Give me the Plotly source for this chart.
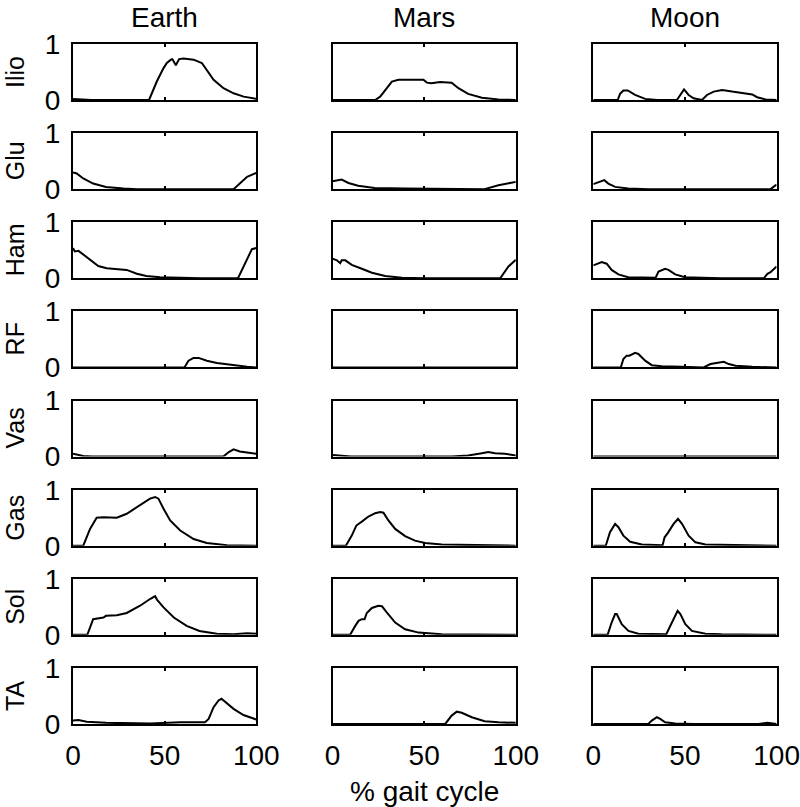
import plotly.graph_objects as go

# ---------------- data ----------------
planets = ["Earth", "Mars", "Moon"]
muscles = ["Ilio", "Glu", "Ham", "RF", "Vas", "Gas", "Sol", "TA"]
x_tick_vals = [0, 50, 100]
x_tick_text = ["0", "50", "100"]
y_tick_vals = [0, 1]
y_tick_text = ["0", "1"]
x_title = "% gait cycle"

# Earth
earth_ilio_x = [0, 5, 10, 41.5, 45.7, 49.4, 51.2, 53.4, 54.2, 56.1, 57.9, 60.3, 65.8, 70.3, 72.1, 76.7, 82.1, 87.6, 93.1, 100]
earth_ilio_y = [0.02, 0.01, 0, 0, 0.33, 0.57, 0.66, 0.72, 0.73, 0.62, 0.73, 0.74, 0.72, 0.66, 0.57, 0.36, 0.21, 0.12, 0.06, 0.02]
earth_glu_x = [0, 2, 5.6, 11, 18, 27.5, 35, 87.6, 91, 95, 100]
earth_glu_y = [0.30, 0.28, 0.19, 0.10, 0.04, 0.01, 0, 0, 0.10, 0.22, 0.29]
earth_ham_x = [0, 1, 3, 4.7, 9.3, 13.8, 18.4, 27.5, 29.3, 34.8, 40, 47.5, 62, 70, 90, 93, 95.8, 97.6, 100]
earth_ham_y = [0.54, 0.48, 0.49, 0.45, 0.33, 0.22, 0.18, 0.16, 0.15, 0.08, 0.04, 0.02, 0.01, 0, 0, 0.21, 0.42, 0.52, 0.54]
earth_rf_x = [0, 60.8, 63, 65.8, 68.5, 73, 78.5, 87.6, 95, 100]
earth_rf_y = [0, 0, 0.12, 0.17, 0.17, 0.12, 0.08, 0.04, 0.01, 0]
earth_vas_x = [0, 5.6, 10, 82, 85, 87.6, 91, 100]
earth_vas_y = [0.05, 0.01, 0, 0, 0.08, 0.13, 0.09, 0.05]
earth_gas_x = [0, 5.6, 9.3, 12.9, 16.6, 23.9, 29.3, 36.6, 42, 44.8, 46.6, 49.4, 53, 58.5, 65.8, 73, 84, 100]
earth_gas_y = [0, 0, 0.30, 0.50, 0.51, 0.50, 0.57, 0.72, 0.84, 0.87, 0.84, 0.66, 0.45, 0.27, 0.12, 0.05, 0.01, 0]
earth_sol_x = [0, 7.8, 11, 12.9, 16.6, 18, 23.9, 29.3, 36.6, 42, 44.8, 45.8, 49.4, 55, 62, 69, 78.5, 87.6, 95, 100]
earth_sol_y = [0, 0, 0.28, 0.29, 0.31, 0.34, 0.35, 0.39, 0.52, 0.64, 0.69, 0.63, 0.49, 0.31, 0.16, 0.07, 0.02, 0.01, 0.03, 0.02]
earth_ta_x = [0, 3, 7.5, 18, 42, 58.5, 72, 74, 76.7, 79.4, 81, 84, 87.6, 93, 100]
earth_ta_y = [0.06, 0.07, 0.04, 0.02, 0.01, 0.03, 0.03, 0.09, 0.30, 0.42, 0.45, 0.36, 0.27, 0.16, 0.08]

# Mars
mars_ilio_x = [0, 23.3, 26, 28.7, 32.4, 36, 41.5, 47, 49.6, 51.5, 54, 58.7, 61.5, 65, 68.7, 74, 81.5, 90.5, 100]
mars_ilio_y = [0, 0, 0.06, 0.18, 0.33, 0.36, 0.36, 0.37, 0.36, 0.31, 0.30, 0.32, 0.32, 0.31, 0.21, 0.11, 0.04, 0.01, 0]
mars_glu_x = [0, 5, 8.7, 14, 23, 40, 83, 90.5, 100]
mars_glu_y = [0.14, 0.17, 0.11, 0.06, 0.02, 0.01, 0, 0.07, 0.13]
mars_ham_x = [0, 2.4, 4.2, 5, 7, 10.5, 16, 21.5, 28.7, 37.8, 50, 91.5, 96, 100]
mars_ham_y = [0.35, 0.32, 0.27, 0.32, 0.32, 0.24, 0.17, 0.10, 0.04, 0.01, 0, 0, 0.21, 0.33]
mars_rf_x = [0, 100]
mars_rf_y = [0, 0]
mars_vas_x = [0, 5, 10, 65, 74, 81.5, 85, 88.7, 94, 100]
mars_vas_y = [0.03, 0.01, 0, 0, 0.02, 0.06, 0.08, 0.06, 0.05, 0.02]
mars_gas_x = [0, 7.3, 10.5, 13, 16, 19.6, 23.3, 26, 27.8, 30.5, 34.2, 39.6, 45, 50.5, 59.6, 72, 100]
mars_gas_y = [0, 0, 0.18, 0.36, 0.43, 0.52, 0.58, 0.60, 0.59, 0.45, 0.30, 0.17, 0.09, 0.05, 0.02, 0.01, 0]
mars_sol_x = [0, 9.6, 12.4, 14.2, 16, 17.5, 18.7, 21.5, 25, 27, 29.6, 34.2, 39.6, 47, 59.6, 100]
mars_sol_y = [0, 0, 0.16, 0.25, 0.28, 0.28, 0.39, 0.48, 0.52, 0.51, 0.40, 0.22, 0.10, 0.04, 0.01, 0]
mars_ta_x = [0, 61.5, 65, 67.8, 70.5, 76, 83, 90.5, 100]
mars_ta_y = [0, 0, 0.15, 0.22, 0.20, 0.12, 0.05, 0.03, 0.02]

# Moon
moon_ilio_x = [0, 13.3, 14.6, 16.4, 18.8, 22.8, 28.3, 35, 45.6, 47.4, 49.5, 52, 54.7, 59.3, 62, 65.7, 70.3, 75.7, 81, 86.7, 89.4, 94, 100]
moon_ilio_y = [0, 0, 0.11, 0.17, 0.17, 0.09, 0.02, 0, 0, 0.09, 0.19, 0.09, 0.03, 0, 0.09, 0.15, 0.18, 0.15, 0.12, 0.10, 0.05, 0.01, 0]
moon_glu_x = [0, 2.7, 6, 8.2, 11.9, 19, 30, 96.7, 100]
moon_glu_y = [0.09, 0.12, 0.16, 0.10, 0.04, 0.01, 0, 0, 0.08]
moon_ham_x = [0, 2.7, 4.6, 7.3, 10, 13.7, 19, 34, 35.6, 39.2, 41, 44.7, 50, 59, 70, 93, 95, 96.7, 100]
moon_ham_y = [0.23, 0.27, 0.29, 0.26, 0.15, 0.07, 0.02, 0.01, 0.12, 0.17, 0.15, 0.07, 0.02, 0.01, 0, 0, 0.08, 0.11, 0.21]
moon_rf_x = [0, 15, 16.4, 18.2, 19.7, 22.8, 24.6, 28.3, 31.9, 37.4, 48, 60.2, 63.9, 68.4, 71.2, 73.9, 77.6, 86.7, 100]
moon_rf_y = [0, 0, 0.15, 0.21, 0.21, 0.26, 0.24, 0.12, 0.04, 0.02, 0.01, 0, 0.06, 0.09, 0.10, 0.06, 0.03, 0.01, 0]
moon_vas_x = [0, 80, 85, 90, 100]
moon_vas_y = [0, 0, 0.01, 0, 0]
moon_gas_x = [0, 6.8, 9.1, 11, 11.9, 13.7, 16.4, 20.1, 26.5, 37.8, 38.9, 40.7, 43.8, 46.2, 48.4, 52, 55.7, 61.2, 75, 90, 100]
moon_gas_y = [0, 0, 0.24, 0.36, 0.39, 0.33, 0.18, 0.07, 0.02, 0.01, 0.15, 0.23, 0.39, 0.48, 0.39, 0.18, 0.06, 0.02, 0.01, 0.01, 0]
moon_sol_x = [0, 7.8, 10, 11.9, 12.8, 15.5, 19.2, 24.6, 39.8, 42, 43.8, 46, 47.5, 50.2, 53.8, 61.2, 70, 100]
moon_sol_y = [0, 0, 0.22, 0.37, 0.37, 0.19, 0.07, 0.02, 0.01, 0.16, 0.31, 0.43, 0.37, 0.19, 0.07, 0.02, 0.01, 0]
moon_ta_x = [0, 30, 31.9, 34.7, 36.5, 39.2, 44.7, 55, 90, 95, 100]
moon_ta_y = [0, 0, 0.06, 0.12, 0.09, 0.03, 0.01, 0, 0, 0.02, 0]

curves = {
    "Earth": [(earth_ilio_x, earth_ilio_y), (earth_glu_x, earth_glu_y), (earth_ham_x, earth_ham_y),
              (earth_rf_x, earth_rf_y), (earth_vas_x, earth_vas_y), (earth_gas_x, earth_gas_y),
              (earth_sol_x, earth_sol_y), (earth_ta_x, earth_ta_y)],
    "Mars": [(mars_ilio_x, mars_ilio_y), (mars_glu_x, mars_glu_y), (mars_ham_x, mars_ham_y),
             (mars_rf_x, mars_rf_y), (mars_vas_x, mars_vas_y), (mars_gas_x, mars_gas_y),
             (mars_sol_x, mars_sol_y), (mars_ta_x, mars_ta_y)],
    "Moon": [(moon_ilio_x, moon_ilio_y), (moon_glu_x, moon_glu_y), (moon_ham_x, moon_ham_y),
             (moon_rf_x, moon_rf_y), (moon_vas_x, moon_vas_y), (moon_gas_x, moon_gas_y),
             (moon_sol_x, moon_sol_y), (moon_ta_x, moon_ta_y)],
}

# ---------------- layout geometry (pixels) ----------------
W, H = 800, 807
col_left = [73, 332.5, 593.3]
col_width = 183.3
row_top0 = 44
row_pitch = 89.14
row_height = 56
FONT = "Liberation Sans, Arial, sans-serif"
FS = 28
FS_ROW = 25

fig = go.Figure()
layout = dict(
    width=W, height=H, margin=dict(l=0, r=0, t=0, b=0, autoexpand=False),
    paper_bgcolor="white", plot_bgcolor="white", showlegend=False,
    font=dict(family=FONT, size=FS, color="black"),
)
annotations = []

for r, muscle in enumerate(muscles):
    top = row_top0 + r * row_pitch
    ydom = [1 - (top + row_height) / H, 1 - top / H]
    for c, planet in enumerate(planets):
        k = r * 3 + c + 1
        xs, ys = curves[planet][r]
        xname = "x" if k == 1 else f"x{k}"
        yname = "y" if k == 1 else f"y{k}"
        fig.add_trace(go.Scatter(x=xs, y=ys, mode="lines", xaxis=xname, yaxis=yname,
                                 line=dict(color="black", width=2), hoverinfo="skip"))
        xdom = [col_left[c] / W, (col_left[c] + col_width) / W]
        layout["xaxis" if k == 1 else f"xaxis{k}"] = dict(
            domain=xdom, anchor=yname, range=[0, 100], showgrid=False, zeroline=False,
            showline=True, linecolor="black", linewidth=2, mirror="ticks",
            ticks="inside", ticklen=3, tickwidth=1.5, tickcolor="black",
            tickvals=x_tick_vals, ticktext=x_tick_text,
            showticklabels=(r == len(muscles) - 1), ticklabelstandoff=5,
            tickfont=dict(family=FONT, size=FS, color="black"), automargin=False,
        )
        layout["yaxis" if k == 1 else f"yaxis{k}"] = dict(
            domain=ydom, anchor=xname, range=[0, 1], showgrid=False, zeroline=False,
            showline=True, linecolor="black", linewidth=2, mirror="ticks",
            ticks="inside", ticklen=3, tickwidth=1.5, tickcolor="black",
            tickvals=y_tick_vals, ticktext=y_tick_text,
            showticklabels=(c == 0), ticklabelstandoff=5,
            tickfont=dict(family=FONT, size=FS, color="black"), automargin=False,
        )
    annotations.append(dict(
        text=muscle, textangle=-90, x=0, y=1 - (top + row_height / 2) / H,
        xref="paper", yref="paper", xanchor="left", yanchor="middle", xshift=-1,
        showarrow=False, font=dict(family=FONT, size=FS_ROW, color="black")))

for c, planet in enumerate(planets):
    annotations.append(dict(
        text=planet, x=(col_left[c] + col_width / 2) / W, y=1, xref="paper", yref="paper",
        xanchor="center", yanchor="top", yshift=0, showarrow=False,
        font=dict(family=FONT, size=FS, color="black")))

annotations.append(dict(
    text=x_title, x=(col_left[1] + col_width / 2) / W, y=0, xref="paper", yref="paper",
    xanchor="center", yanchor="bottom", yshift=-2, showarrow=False,
    font=dict(family=FONT, size=FS, color="black")))

layout["annotations"] = annotations
fig.update_layout(**layout)
fig.write_html(
    "out.html",
    config={"displayModeBar": False},
    post_script="document.body.style.margin='0px';document.body.style.overflow='hidden';",
)
